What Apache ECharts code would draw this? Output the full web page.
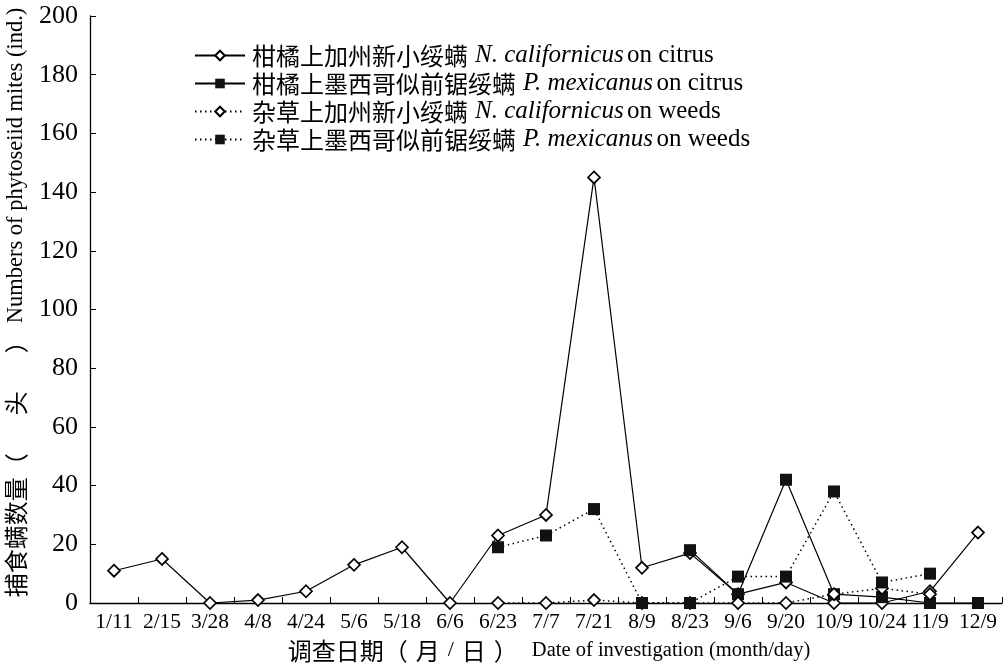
<!DOCTYPE html>
<html>
<head>
<meta charset="utf-8">
<script src="https://cdn.jsdelivr.net/npm/echarts@6/dist/echarts.min.js"></script>
<style>
  html, body { margin: 0; padding: 0; background: #fff; }
  #chart { width: 1003px; height: 668px; }
</style>
</head>
<body>
<div id="chart"></div>
<script>
// Survey dates (month/day)
const dates = ['1/11','2/15','3/28','4/8','4/24','5/6','5/18','6/6','6/23','7/7','7/21',
               '8/9','8/23','9/6','9/20','10/9','10/24','11/9','12/9'];

// Counts of phytoseiid mites per survey (null = not surveyed)
const ncalCitrus = [11, 15, 0, 1, 4, 13, 19, 0, 23, 30, 145, 12, 17, 3, 7, 0, 0, 4, 24];
const pmexCitrus = [null, null, null, null, null, null, null, null, null, null, null, null,
                    18, 3, 42, 3, 2, 0, 0];
const ncalWeeds  = [null, null, null, null, null, null, null, null,
                    0, 0, 1, 0, 0, 0, 0, 3, 5, 3, null];
const pmexWeeds  = [null, null, null, null, null, null, null, null,
                    19, 23, 32, 0, 0, 9, 9, 38, 7, 10, null];

// Legend wording: Chinese name, scientific name, host
const cnNames  = ['柑橘上加州新小绥螨', '柑橘上墨西哥似前锯绥螨', '杂草上加州新小绥螨', '杂草上墨西哥似前锯绥螨'];
const sciNames = ['N. californicus', 'P. mexicanus', 'N. californicus', 'P. mexicanus'];
const hosts    = ['on citrus', 'on citrus', 'on weeds', 'on weeds'];

const yTicks = { min: 0, max: 200, interval: 20 };

const SERIF = "'Liberation Serif', 'Noto Sans CJK SC', serif";
const CJK = "'Noto Sans CJK SC'";
const seriesNames = cnNames.map((c, i) => c + ' ' + sciNames[i] + ' ' + hosts[i]);

function makeSeries(i, data, symbol, dotted) {
  const isDiamond = symbol === 'diamond';
  return {
    name: seriesNames[i],
    type: 'line',
    data: data,
    symbol: symbol,
    symbolSize: 12,
    showAllSymbol: true,
    connectNulls: false,
    animation: false,
    lineStyle: { color: '#000', width: dotted ? 1.5 : 1.2, type: dotted ? [1.5, 3.5] : 'solid' },
    itemStyle: isDiamond
      ? { color: '#fff', borderColor: '#000', borderWidth: 1.7 }
      : { color: '#111', borderColor: '#111', borderWidth: 0 },
    emphasis: { disabled: true }
  };
}

// Axis titles: Chinese part with wide parentheses, English part in serif
const xName = '{c0|调查日期}{pl|（}{cn|月}{sl|/}{cn|日}{pr|）}{en|Date of investigation (month/day)}';
const yName = '{c0|捕食螨数量}{pl|（}{cn|头}{pr|）}{en|Numbers of phytoseiid mites (ind.)}';

// o: [paren outer gap, paren inner gap, english font size, lead gap, english gap, slash gap]
function nameRich(o) {
  return {
    c0: { fontFamily: CJK, fontSize: 24, color: '#000', padding: [0, 0, 0, o[3]] },
    cn: { fontFamily: CJK, fontSize: 24, color: '#000' },
    pl: { fontFamily: CJK, fontSize: 24, color: '#000', padding: [0, o[1], 0, o[0]] },
    pr: { fontFamily: CJK, fontSize: 24, color: '#000', padding: [0, o[0], 0, o[1]] },
    sl: { fontFamily: "'Liberation Serif'", fontSize: 22, color: '#000', padding: [0, o[5], 0, o[5]] },
    en: { fontFamily: "'Liberation Serif'", fontSize: o[2], color: '#000', padding: [0, 0, 0, o[4]] }
  };
}

const chart = echarts.init(document.getElementById('chart'), null, { renderer: 'canvas' });
chart.setOption({
  backgroundColor: '#fff',
  animation: false,
  grid: { left: 90, right: 1, top: 16, bottom: 65, containLabel: false, outerBoundsMode: 'none' },
  legend: {
    orient: 'vertical',
    left: 189,
    top: 38,
    itemWidth: 50,
    itemHeight: 12,
    itemGap: 3,
    data: seriesNames,
    formatter: function (name) {
      const i = seriesNames.indexOf(name);
      return '{cn|' + cnNames[i] + '}{it|' + sciNames[i] + '} {rm|' + hosts[i] + '}';
    },
    textStyle: {
      color: '#000',
      padding: [0, 0, 0, 2],
      rich: {
        cn: { fontFamily: CJK, fontSize: 24, color: '#000', lineHeight: 24 },
        it: { fontFamily: "'Liberation Serif'", fontStyle: 'italic', fontSize: 25, color: '#000', lineHeight: 24, padding: [0, 0, 0, 7] },
        rm: { fontFamily: "'Liberation Serif'", fontSize: 25, color: '#000', lineHeight: 24 }
      }
    }
  },
  xAxis: {
    type: 'category',
    data: dates,
    boundaryGap: true,
    name: xName,
    nameLocation: 'middle',
    nameGap: 35,
    nameTextStyle: { color: '#000', rich: nameRich([0, 8, 20.5, 6, 14, 8]) },
    axisLine: { lineStyle: { color: '#000', width: 1.3 } },
    axisTick: { show: true, inside: true, length: 6, lineStyle: { color: '#000' } },
    axisLabel: { interval: 0, margin: 9, fontFamily: SERIF, fontSize: 21.5, color: '#000' },
    splitLine: { show: false }
  },
  yAxis: {
    type: 'value',
    min: yTicks.min,
    max: yTicks.max,
    interval: yTicks.interval,
    name: yName,
    nameLocation: 'middle',
    nameGap: 53,
    nameRotate: 90,
    nameTextStyle: { color: '#000', rich: nameRich([0, 38, 22.5, 14, 6, 7]) },
    axisLine: { show: true, lineStyle: { color: '#000', width: 1.3 } },
    axisTick: { show: true, inside: true, length: 6, lineStyle: { color: '#000' } },
    axisLabel: { margin: 12, fontFamily: SERIF, fontSize: 26, color: '#000' },
    splitLine: { show: false }
  },
  series: [
    makeSeries(0, ncalCitrus, 'diamond', false),
    makeSeries(1, pmexCitrus, 'rect', false),
    makeSeries(2, ncalWeeds, 'diamond', true),
    makeSeries(3, pmexWeeds, 'rect', true)
  ]
});
</script>
</body>
</html>
